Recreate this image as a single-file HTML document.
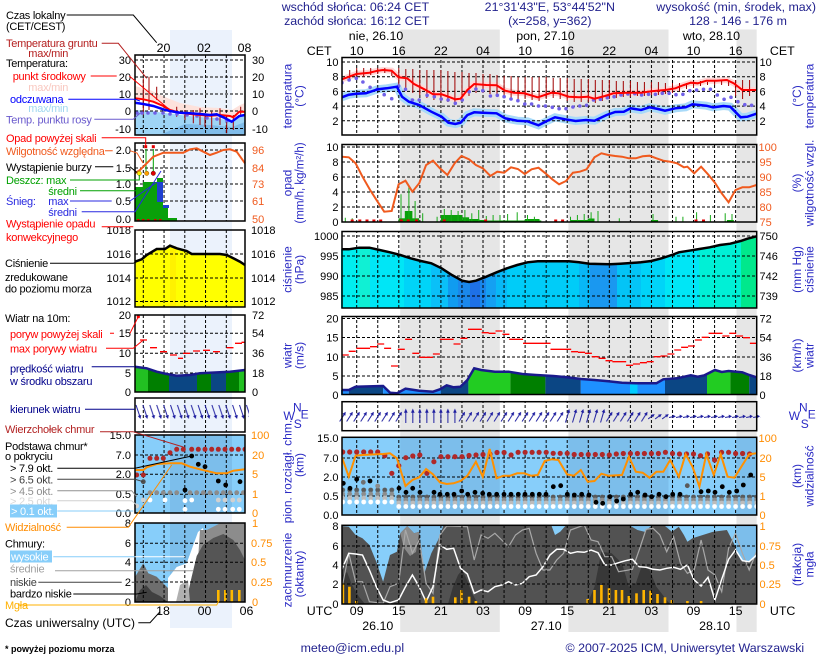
<!DOCTYPE html>
<html><head><meta charset="utf-8">
<style>
html,body{margin:0;padding:0;background:#fff;}
svg{display:block;font-family:"Liberation Sans",Arial,sans-serif;}
.lg{font-size:11px;letter-spacing:-0.25px;}
.tk{font-size:11px;}
.hd{font-size:12.4px;fill:#22228e;}
.ti{font-size:12px;fill:#2a2ac4;}
.gd{stroke:#000;stroke-width:1;stroke-dasharray:3,2;fill:none;}
.bd{fill:none;stroke:#000;stroke-width:1.5;}
</style></head><body>
<svg width="820" height="660" viewBox="0 0 820 660" xmlns="http://www.w3.org/2000/svg">
<defs>
<pattern id="vg" x="356.2" y="0" width="21.052" height="660" patternUnits="userSpaceOnUse"><line x1="0.5" y1="0" x2="0.5" y2="660" stroke="#000" stroke-width="1" stroke-dasharray="3,2"/></pattern>
<pattern id="mvg" x="142.8" y="0" width="20.75" height="660" patternUnits="userSpaceOnUse"><line x1="0.5" y1="0" x2="0.5" y2="660" stroke="#000" stroke-width="1" stroke-dasharray="3,2"/></pattern>
<pattern id="stk" x="339.16" y="0" width="7.017" height="660" patternUnits="userSpaceOnUse">
<circle cx="3.5" cy="497" r="2.4" fill="#5a5a5a"/><circle cx="3.5" cy="500" r="2.4" fill="#8c8c8c"/><circle cx="3.5" cy="503" r="2.4" fill="#bcbcbc"/><circle cx="3.5" cy="506.5" r="2.4" fill="#fff"/></pattern>
<pattern id="stk2" x="339.16" y="0" width="7.017" height="660" patternUnits="userSpaceOnUse">
<circle cx="3.5" cy="490" r="2.4" fill="#5a5a5a"/><circle cx="3.5" cy="494" r="2.4" fill="#8c8c8c"/><circle cx="3.5" cy="498" r="2.4" fill="#bcbcbc"/><circle cx="3.5" cy="502" r="2.4" fill="#fff"/></pattern>
<pattern id="aNE" x="339.16" y="401" width="7.017" height="31" patternUnits="userSpaceOnUse"><line x1="0.5" y1="20.5" x2="5.6" y2="12.5" stroke="#1e1ea0" stroke-width="1"/><polygon points="6.6,10.8 6.19,14.8 3.15,12.88" fill="#1e1ea0"/></pattern>
<pattern id="aN" x="339.16" y="401" width="7.017" height="31" patternUnits="userSpaceOnUse"><line x1="3.5" y1="22" x2="3.5" y2="10" stroke="#1e1ea0" stroke-width="1"/><polygon points="3.5,7.5 5.3,11.8 1.7,11.8" fill="#1e1ea0"/></pattern>
<pattern id="aNNE" x="339.16" y="401" width="7.017" height="31" patternUnits="userSpaceOnUse"><line x1="1.8" y1="21.5" x2="5" y2="10.5" stroke="#1e1ea0" stroke-width="1"/><polygon points="5.6,8 6.36,11.95 2.9,10.97" fill="#1e1ea0"/></pattern>
<pattern id="aENE" x="339.16" y="401" width="7.017" height="31" patternUnits="userSpaceOnUse"><line x1="0.2" y1="18" x2="5.5" y2="14" stroke="#1e1ea0" stroke-width="1"/><polygon points="6.8,13.1 5.1,16.5 3.06,13.78" fill="#1e1ea0"/></pattern>
<pattern id="aE" x="339.16" y="401" width="7.017" height="31" patternUnits="userSpaceOnUse"><line x1="0" y1="16.5" x2="5" y2="15.5" stroke="#1e1ea0" stroke-width="1"/><polygon points="6.9,15.2 3.8,17.3 3.6,13.6" fill="#1e1ea0"/></pattern>
<pattern id="aSE" x="135" y="398" width="6.9" height="34" patternUnits="userSpaceOnUse"><line x1="1" y1="7" x2="4.7" y2="18" stroke="#1e1ea0" stroke-width="1"/><polygon points="5.5,21 6.23,17.04 2.77,18.04" fill="#1e1ea0"/></pattern>
<clipPath id="cT"><rect x="342" y="57.5" width="414.7" height="77.5"/></clipPath>
<clipPath id="cO"><rect x="342" y="144.5" width="414.7" height="77.5"/></clipPath>
<clipPath id="cP"><path d="M341,249.3 L348.8,249.3 359.1,247.7 369.4,247.7 379.7,250 390,252.3 400.3,255 410.6,258.3 420.9,261 431.3,263.3 441.6,268.3 451.9,275 462.2,280.7 469.1,282 475.9,280.7 486.3,276.7 496.6,272.3 506.9,268.3 517.2,265 527.5,262.3 537.8,261.3 568.8,261.3 579.1,262.3 589.4,263.7 610,264.3 620.3,263.7 641,262.3 651.3,261 661.6,258.3 671.9,255 678.8,252.3 689.1,250.7 699.4,249 709.7,247.3 720,245 730.3,243.7 740.6,241 747.5,238.7 757,236.3 L757,308 L341,308 Z"/></clipPath>
<clipPath id="cW"><path d="M341,390 L348.8,390 355.6,386.7 383.1,386 390,392.7 396.9,393.3 405.5,388.7 419.2,390.7 433,391.7 439.9,389.3 446.7,385.3 453.6,387.3 460.5,386.7 467.4,380 474.2,368.3 481.1,370 494.9,371.7 508.6,371.7 522.4,374 536.1,375 553.3,376 567,377.3 580.8,379 594.5,380 608.3,381.3 622,382.7 635.8,383.3 656.4,383.3 663.3,379.3 677,378.3 690.8,375.3 697.7,376.7 704.5,375.3 714.9,370 721.7,372 728.6,371 742.4,372.3 749.2,375 757,377.3 L757,395 L341,395 Z"/></clipPath>
<clipPath id="cWp"><rect x="342" y="316.5" width="414.7" height="78"/></clipPath>
<clipPath id="cB"><rect x="342" y="437.3" width="414.7" height="77.7"/></clipPath>
<clipPath id="cC"><rect x="342" y="525.3" width="414.7" height="78.7"/></clipPath>
<clipPath id="mW"><path d="M135,366.7 L146.7,368.3 156.7,371.7 166.7,374 176.7,375.7 190,375 200,373.3 230,371.7 245,370 L245,392 L135,392 Z"/></clipPath>
<clipPath id="mB"><rect x="135" y="435" width="110" height="78"/></clipPath>
<clipPath id="mT"><rect x="135" y="55" width="110" height="80"/></clipPath>
</defs>

<rect width="820" height="660" fill="#fff"/>
<!-- night bands -->
<rect x="400.2" y="29.5" width="99.6" height="602.5" fill="#e6e6e6"/>
<rect x="568.4" y="29.5" width="100.1" height="602.5" fill="#e6e6e6"/>
<rect x="736.5" y="29.5" width="20.2" height="602.5" fill="#e6e6e6"/>
<rect x="170" y="30" width="62" height="598" fill="#ebf2fc"/>

<!-- header -->
<text class="hd" x="281.7" y="11">wschód słońca: 06:24 CET</text>
<text class="hd" x="284.1" y="25">zachód słońca: 16:12 CET</text>
<text class="hd" x="549.8" y="11" text-anchor="middle">21°31'43"E, 53°44'52"N</text>
<text class="hd" x="549.8" y="25" text-anchor="middle">(x=258, y=362)</text>
<text class="hd" x="816" y="11" text-anchor="end">wysokość (min, środek, max)</text>
<text class="hd" x="738" y="25" text-anchor="middle">128 - 146 - 176 m</text>

<g font-size="12.4" fill="#000">
<text x="348.8" y="40">nie, 26.10</text>
<text x="516.2" y="40">pon, 27.10</text>
<text x="682.9" y="40">wto, 28.10</text>
<text x="306.8" y="55">CET</text>
<text x="769.9" y="55">CET</text>
<g text-anchor="middle">
<text x="356.7" y="55">10</text><text x="398.8" y="55">16</text><text x="440.9" y="55">22</text><text x="483" y="55">04</text><text x="525.1" y="55">10</text><text x="567.2" y="55">16</text><text x="609.3" y="55">22</text><text x="651.4" y="55">04</text><text x="693.5" y="55">10</text><text x="735.6" y="55">16</text>
<text x="356.7" y="615">09</text><text x="398.8" y="615">15</text><text x="440.9" y="615">21</text><text x="483" y="615">03</text><text x="525.1" y="615">09</text><text x="567.2" y="615">15</text><text x="609.3" y="615">21</text><text x="651.4" y="615">03</text><text x="693.5" y="615">09</text><text x="735.6" y="615">15</text>
<text x="377.8" y="630">26.10</text><text x="546.2" y="630">27.10</text><text x="714.6" y="630">28.10</text>
</g>
<text x="306.8" y="615">UTC</text>
<text x="769.9" y="615">UTC</text>
</g>

<!-- ===== TEMPERATURE PANEL ===== -->
<g clip-path="url(#cT)">
<path d="M341.9,97.3 L348.8,94.7 356.3,93.7 365.9,93.3 377.6,89.3 386.6,88.3 396.9,86.7 402,96.7 408.9,101.7 419.2,105 431.3,111.7 441.6,116.7 448.4,122.7 455.3,124 460.5,122.7 467.4,115 474.2,112.3 482.8,112.7 496.6,113.3 505.2,118.3 517.2,120.7 527.5,121.3 538.5,125.3 546.4,121.3 555,117.3 565.3,119.3 575.6,121 586,120 594.5,120.7 606.6,115 615.2,112 623.8,111.7 630.6,108.3 641,110 649.5,107.3 658.1,109 665,110.7 675.3,108.3 685.6,107.3 692.5,104.3 706.3,105.7 713.1,107.3 723.5,106 730.3,106.7 740.6,117.3 747.5,116.7 756.5,113.7" fill="none" stroke="#a8daf9" stroke-width="8"/>
<path d="M341.9,79.3 L356.3,74 369.4,72.7 377.6,70.7 383.1,70 391.7,70.7 398.6,77.3 407.2,78.3 414.1,84 424.4,89.3 433,94.3 441.6,94.3 448.4,96.7 455.3,99.3 460.5,98.7 467.4,90 474.2,84 486.3,85 496.6,85.3 505.2,90.7 513.8,92.7 524.1,93.3 537.8,97.3 551.6,92.7 558.5,93.3 568.8,96.7 579.1,97.3 587.7,96.7 594.5,98.7 604.9,96 613.5,93.3 627.2,92.7 641,92.7 651.3,91.3 665,90 675.3,88.3 683.9,85 690.8,82.7 697.7,83.3 706.3,80.7 716.6,80.7 726.9,80 733.8,83.3 742.4,90 756.5,90" fill="none" stroke="#ffd6d6" stroke-width="6"/>
<rect x="342" y="57" width="415" height="80" fill="url(#vg)"/>
<path class="gd" d="M342,62H757M342,76.7H757M342,91.4H757M342,106.1H757M342,120.8H757"/>
<path d="M349.7,70V80M356.7,68V80M363.7,68V77M370.7,68V75M377.7,68V74M384.8,68V73M391.8,70V76M398.8,68V86M405.8,69V90M412.8,69V93M419.8,70V95M426.9,70V98M433.9,70V100M440.9,70V101M447.9,71V102M454.9,72V104M462,72V101M469,73V96M476,73V93M483,74V93M490,74V94M497,75V96M504.1,76V97M511.1,76V98M518.1,77V99M525.1,77V99M532.1,77V100M539.1,77V101M546.2,77V99M553.2,78V98M560.2,78V99M567.2,78V101M574.2,79V102M581.2,79V102M588.3,79V102M595.3,80V103M602.3,80V101M609.3,80V99M616.3,81V98M623.3,81V97M630.4,81V97M637.4,82V96M644.4,82V96M651.4,82V95M658.4,82V95M665.4,83V94M672.5,83V93M679.5,83V91M686.5,83V89M693.5,81V88M700.5,81V86M707.5,82V85M714.6,82V85M721.6,81V85M728.6,81V86M735.6,80V96M742.6,80V99M749.6,80V96" stroke="#a00000" stroke-width="1"/>
<g fill="#7060e8">
<circle cx="341.9" cy="82.7" r="1.8"/><circle cx="349.1" cy="80" r="1.8"/><circle cx="356.3" cy="78.3" r="1.8"/><circle cx="362.9" cy="82" r="1.8"/><circle cx="370.1" cy="87.3" r="1.8"/><circle cx="377.3" cy="89.3" r="1.8"/><circle cx="384.2" cy="94.7" r="1.8"/><circle cx="391.7" cy="98.7" r="1.8"/><circle cx="398.6" cy="86" r="1.8"/><circle cx="405.5" cy="89.3" r="1.8"/><circle cx="412.4" cy="100" r="1.8"/><circle cx="419.2" cy="100" r="1.8"/><circle cx="427.1" cy="95.3" r="1.8"/><circle cx="434.3" cy="96.7" r="1.8"/><circle cx="441.2" cy="99" r="1.8"/><circle cx="448.1" cy="100" r="1.8"/><circle cx="455.3" cy="103.3" r="1.8"/><circle cx="462.2" cy="100" r="1.8"/><circle cx="469.1" cy="91.7" r="1.8"/><circle cx="475.9" cy="89" r="1.8"/><circle cx="482.8" cy="90.7" r="1.8"/><circle cx="490.4" cy="96" r="1.8"/><circle cx="497.3" cy="95.3" r="1.8"/><circle cx="504.1" cy="96.7" r="1.8"/><circle cx="511" cy="99" r="1.8"/><circle cx="517.9" cy="100.7" r="1.8"/><circle cx="524.8" cy="104" r="1.8"/><circle cx="531.6" cy="104" r="1.8"/><circle cx="538.5" cy="106" r="1.8"/><circle cx="545.4" cy="106" r="1.8"/><circle cx="552.3" cy="107.3" r="1.8"/><circle cx="559.1" cy="108.7" r="1.8"/><circle cx="566" cy="108.7" r="1.8"/><circle cx="572.9" cy="107" r="1.8"/><circle cx="579.8" cy="106" r="1.8"/><circle cx="586.6" cy="105.3" r="1.8"/><circle cx="593.5" cy="100" r="1.8"/><circle cx="600.4" cy="99.3" r="1.8"/><circle cx="607.3" cy="97.7" r="1.8"/><circle cx="614.1" cy="96.7" r="1.8"/><circle cx="621" cy="95" r="1.8"/><circle cx="627.9" cy="94" r="1.8"/><circle cx="634.8" cy="93.7" r="1.8"/><circle cx="641.6" cy="95" r="1.8"/><circle cx="648.5" cy="94.3" r="1.8"/><circle cx="655.4" cy="94.3" r="1.8"/><circle cx="662.3" cy="93.3" r="1.8"/><circle cx="669.1" cy="93.3" r="1.8"/><circle cx="676" cy="94.7" r="1.8"/><circle cx="682.9" cy="94.3" r="1.8"/><circle cx="689.8" cy="90.7" r="1.8"/><circle cx="696.6" cy="90" r="1.8"/><circle cx="703.5" cy="89.3" r="1.8"/><circle cx="710.4" cy="89.3" r="1.8"/><circle cx="717.3" cy="95" r="1.8"/><circle cx="724.1" cy="99.3" r="1.8"/><circle cx="731" cy="97.3" r="1.8"/><circle cx="737.9" cy="101.7" r="1.8"/><circle cx="744.8" cy="104.7" r="1.8"/><circle cx="751.6" cy="105.3" r="1.8"/>
</g>
<path d="M341.9,79.3 L356.3,74 369.4,72.7 377.6,70.7 383.1,70 391.7,70.7 398.6,77.3 407.2,78.3 414.1,84 424.4,89.3 433,94.3 441.6,94.3 448.4,96.7 455.3,99.3 460.5,98.7 467.4,90 474.2,84 486.3,85 496.6,85.3 505.2,90.7 513.8,92.7 524.1,93.3 537.8,97.3 551.6,92.7 558.5,93.3 568.8,96.7 579.1,97.3 587.7,96.7 594.5,98.7 604.9,96 613.5,93.3 627.2,92.7 641,92.7 651.3,91.3 665,90 675.3,88.3 683.9,85 690.8,82.7 697.7,83.3 706.3,80.7 716.6,80.7 726.9,80 733.8,83.3 742.4,90 756.5,90" fill="none" stroke="#ff0000" stroke-width="2"/>
<path d="M341.9,97.3 L348.8,94.7 356.3,93.7 365.9,93.3 377.6,89.3 386.6,88.3 396.9,86.7 402,96.7 408.9,101.7 419.2,105 431.3,111.7 441.6,116.7 448.4,122.7 455.3,124 460.5,122.7 467.4,115 474.2,112.3 482.8,112.7 496.6,113.3 505.2,118.3 517.2,120.7 527.5,121.3 538.5,125.3 546.4,121.3 555,117.3 565.3,119.3 575.6,121 586,120 594.5,120.7 606.6,115 615.2,112 623.8,111.7 630.6,108.3 641,110 649.5,107.3 658.1,109 665,110.7 675.3,108.3 685.6,107.3 692.5,104.3 706.3,105.7 713.1,107.3 723.5,106 730.3,106.7 740.6,117.3 747.5,116.7 756.5,113.7" fill="none" stroke="#0000ff" stroke-width="2.5"/>
</g>
<rect class="bd" x="342" y="57.5" width="414.7" height="77.5"/>

<!-- ===== PRECIP PANEL ===== -->
<g clip-path="url(#cO)">
<rect x="342" y="144" width="415" height="80" fill="url(#vg)"/>
<path class="gd" d="M342,147H757M342,162H757M342,177H757M342,192H757M342,207H757"/>
<g fill="#0aa00a">
<rect x="398.6" y="218.3" width="20.6" height="3.7"/><rect x="404.8" y="211" width="7.6" height="11"/><rect x="440.9" y="215" width="21.3" height="7"/><rect x="462.2" y="217.3" width="6.9" height="4.7"/><rect x="469.1" y="219" width="10.3" height="3"/><rect x="479.4" y="220" width="6.9" height="2"/><rect x="486.3" y="220.5" width="55" height="1.5"/><rect x="524.8" y="219" width="14.7" height="3"/><rect x="570.5" y="220" width="20.6" height="2"/><rect x="587.7" y="218.5" width="6.8" height="3.5"/><rect x="651.3" y="220" width="6.8" height="2"/><rect x="726.9" y="220" width="6.9" height="2"/>
</g>
<path d="M345.3,222V217.7M352.2,222V218.3M401,222V194.3M408.9,222V185.7M415.1,222V201M422.7,222V213.3M437.1,222V216.7M444.3,222V209M451.2,222V210M458.1,222V211M464.9,222V210M471.8,222V213.3M478.7,222V210M486.3,222V216M493.1,222V215M500,222V215M507.6,222V214M517.2,222V212.3M527.5,222V215M534.4,222V216.7M570.5,222V216.7M577.4,222V215M584.2,222V214M591.1,222V212.3M598,222V211M619.3,222V218.3M653,222V214M676,222V216.7M682.9,222V216.7M696.6,222V212.3M710.4,222V215M725.2,222V213.3M732,222V214" stroke="#18aa18" stroke-width="1"/>
<g fill="#e00000">
<rect x="350.7" y="219.5" width="3" height="3"/><rect x="358.3" y="219.5" width="3" height="3"/><rect x="365.5" y="219.5" width="3" height="3"/><rect x="372.4" y="219.5" width="3" height="3"/><rect x="379.2" y="219.5" width="3" height="3"/><rect x="399.8" y="219.5" width="3" height="3"/><rect x="406.7" y="219.5" width="3" height="3"/><rect x="415" y="219.5" width="3" height="3"/><rect x="442.8" y="219.5" width="3" height="3"/><rect x="484.1" y="219.5" width="3" height="3"/><rect x="554.2" y="219.5" width="3" height="3"/><rect x="561.1" y="219.5" width="3" height="3"/><rect x="694.5" y="219.5" width="3" height="3"/><rect x="702" y="219.5" width="3" height="3"/>
</g>
<path d="M341.9,156.7 L348.8,157.3 355.6,163.3 362.5,176.7 370.1,190 377.6,201.7 384.2,211.7 391.7,211 398.6,184.3 405.5,180.7 412.4,191.7 419.2,183.3 426.1,165 433,160.7 439.9,168.3 447.4,175 454.6,163.3 461.5,156 469.1,159.3 475.9,165 482.8,168.3 490.4,176 497.3,171.7 504.1,172.7 511,167.3 517.9,169 524.8,174 531.6,169.3 538.5,167.7 545.4,173.3 552.3,179.3 559.1,184.3 566,181 572.9,172.7 579.8,171.7 586.6,169.3 594.5,157.3 601.4,153.3 608.3,155 615.2,156 622,156.7 628.9,158.3 635.8,158.3 642.7,156.3 649.5,155.7 656.4,158.3 663.3,160.7 670.2,161.7 677,163.3 683.9,167.3 687.4,166.7 694.2,173.3 701.1,166.7 708,174.3 714.9,182.7 721.7,193.3 728.6,202.3 735.5,190 742.4,187.3 749.2,187.3 756.5,185" fill="none" stroke="#f05a1e" stroke-width="2"/>
</g>
<rect class="bd" x="342" y="144.5" width="414.7" height="77.5"/>

<!-- ===== PRESSURE PANEL ===== -->
<g clip-path="url(#cP)">
<rect x="341" y="231" width="18" height="78" fill="#00eef0"/>
<rect x="359" y="231" width="11" height="78" fill="#10f0d4"/>
<rect x="370" y="231" width="34" height="78" fill="#00e6f6"/>
<rect x="404" y="231" width="27" height="78" fill="#00d4f8"/>
<rect x="431" y="231" width="17" height="78" fill="#0ac0f8"/>
<rect x="448" y="231" width="10" height="78" fill="#109cf0"/>
<rect x="458" y="231" width="12" height="78" fill="#1a88ec"/>
<rect x="470" y="231" width="10" height="78" fill="#1e70e6"/>
<rect x="480" y="231" width="6" height="78" fill="#1a86ec"/>
<rect x="486" y="231" width="10" height="78" fill="#14a0f2"/>
<rect x="496" y="231" width="11" height="78" fill="#08b8f6"/>
<rect x="507" y="231" width="72" height="78" fill="#00ccf8"/>
<rect x="579" y="231" width="11" height="78" fill="#08b8f6"/>
<rect x="590" y="231" width="27" height="78" fill="#1a98f0"/>
<rect x="617" y="231" width="24" height="78" fill="#04c4f6"/>
<rect x="641" y="231" width="24" height="78" fill="#00d4f8"/>
<rect x="665" y="231" width="34" height="78" fill="#00e6f6"/>
<rect x="699" y="231" width="42" height="78" fill="#00f0d6"/>
<rect x="741" y="231" width="16" height="78" fill="#00e88c"/>
</g>
<rect x="342" y="231" width="415" height="78" fill="url(#vg)"/>
<path class="gd" d="M342,236H757M342,256H757M342,276H757M342,296H757"/>
<path d="M341.9,249.3 L348.8,249.3 359.1,247.7 369.4,247.7 379.7,250 390,252.3 400.3,255 410.6,258.3 420.9,261 431.3,263.3 441.6,268.3 451.9,275 462.2,280.7 469.1,282 475.9,280.7 486.3,276.7 496.6,272.3 506.9,268.3 517.2,265 527.5,262.3 537.8,261.3 568.8,261.3 579.1,262.3 589.4,263.7 610,264.3 620.3,263.7 641,262.3 651.3,261 661.6,258.3 671.9,255 678.8,252.3 689.1,250.7 699.4,249 709.7,247.3 720,245 730.3,243.7 740.6,241 747.5,238.7 756.5,236.3" fill="none" stroke="#000" stroke-width="2.5"/>
<rect class="bd" x="342" y="231.5" width="414.7" height="76.5"/>

<!-- ===== WIND PANEL ===== -->
<g clip-path="url(#cWp)">
<rect x="342" y="316" width="415" height="80" fill="url(#vg)"/>
<path class="gd" d="M342,318.5H757M342,337.5H757M342,357H757M342,376H757"/>
</g>
<g clip-path="url(#cW)">
<rect x="341" y="360" width="7.8" height="36" fill="#1e90ff"/>
<rect x="348.8" y="360" width="34.3" height="36" fill="#0b4684"/>
<rect x="383.1" y="360" width="7.6" height="36" fill="#1e90ff"/>
<rect x="390.7" y="360" width="7.9" height="36" fill="#00ccff"/>
<rect x="398.6" y="360" width="42.3" height="36" fill="#1e90ff"/>
<rect x="440.9" y="360" width="27.5" height="36" fill="#0b4684"/>
<rect x="468.4" y="360" width="41.9" height="36" fill="#22cc22"/>
<rect x="510.3" y="360" width="35.1" height="36" fill="#007f00"/>
<rect x="545.4" y="360" width="35.4" height="36" fill="#0b4684"/>
<rect x="580.8" y="360" width="49.2" height="36" fill="#1e90ff"/>
<rect x="630" y="360" width="7.5" height="36" fill="#00ccff"/>
<rect x="637.5" y="360" width="27.5" height="36" fill="#1e90ff"/>
<rect x="665" y="360" width="42" height="36" fill="#0b4684"/>
<rect x="707" y="360" width="23.3" height="36" fill="#22cc22"/>
<rect x="730.3" y="360" width="18.9" height="36" fill="#007f00"/>
<rect x="749.2" y="360" width="7.8" height="36" fill="#0b4684"/>
</g>
<g clip-path="url(#cWp)">
<path d="M341.9,390 L348.8,390 355.6,386.7 383.1,386 390,392.7 396.9,393.3 405.5,388.7 419.2,390.7 433,391.7 439.9,389.3 446.7,385.3 453.6,387.3 460.5,386.7 467.4,380 474.2,368.3 481.1,370 494.9,371.7 508.6,371.7 522.4,374 536.1,375 553.3,376 567,377.3 580.8,379 594.5,380 608.3,381.3 622,382.7 635.8,383.3 656.4,383.3 663.3,379.3 677,378.3 690.8,375.3 697.7,376.7 704.5,375.3 714.9,370 721.7,372 728.6,371 742.4,372.3 749.2,375 756.5,377.3" fill="none" stroke="#1a1a8c" stroke-width="2.5"/>
<path d="M341.8,355h7M348.7,351.3h7M356.3,348.3h7M363.1,348.3h7M370,346.7h7M377.2,344h7M384.1,348.3h7M391,366h7M397.8,349.3h7M405.1,339.3h7M412.3,353.3h7M419.2,357.3h7M426,357.3h7M432.9,354h7M439.8,339.3h7M446.7,339.3h7M453.5,344h7M460.4,338.3h7M468,329.3h7M474.8,329.3h7M481.7,332.7h7M488.6,333.3h7M495.5,331h7M502.4,334.3h7M509.2,339.3h7M516.1,339.3h7M523,343.3h7M529.9,343.3h7M536.7,343.3h7M543.6,343.3h7M550.5,349.3h7M557.4,349.3h7M564.2,349.3h7M571.1,351.7h7M578,352.3h7M584.9,353.3h7M591.7,356.7h7M598.6,358.3h7M605.5,360.7h7M612.4,361.7h7M619.2,361.7h7M626.1,365.3h7M633,364h7M639.9,362.7h7M646.7,361.7h7M653.6,356.7h7M660.5,356h7M667.4,354h7M674.2,350h7M681.1,347.3h7M688,346h7M694.9,340h7M701.7,337.3h7M708.6,333.3h7M715.5,333.3h7M722.4,336h7M729.2,333.3h7M736.1,336h7M743,337.7h7M749.9,343.3h7" stroke="#ff0000" stroke-width="1.3"/>
</g>
<rect class="bd" x="342" y="316.5" width="414.7" height="78"/>

<!-- ===== WIND DIRECTION ===== -->
<rect x="342" y="401.7" width="415" height="29" fill="url(#vg)"/>
<rect x="339.16" y="401" width="63.15" height="31" fill="url(#aNE)"/>
<rect x="402.31" y="401" width="56.14" height="31" fill="url(#aN)"/>
<rect x="458.45" y="401" width="105.25" height="31" fill="url(#aNE)"/>
<rect x="563.7" y="401" width="42.1" height="31" fill="url(#aNNE)"/>
<rect x="605.8" y="401" width="42.11" height="31" fill="url(#aNE)"/>
<rect x="647.91" y="401" width="21.05" height="31" fill="url(#aENE)"/>
<rect x="668.96" y="401" width="91.22" height="31" fill="url(#aE)"/>
<rect class="bd" x="342" y="401.7" width="414.7" height="29"/>

<!-- ===== CLOUD BASE PANEL ===== -->
<g clip-path="url(#cB)">
<rect x="342" y="437" width="415" height="79" fill="#87cefa"/>
<rect x="400.2" y="437" width="99.6" height="79" fill="#7cbeeb"/>
<rect x="568.4" y="437" width="100.1" height="79" fill="#7cbeeb"/>
<rect x="736.5" y="437" width="20.2" height="79" fill="#7cbeeb"/>
<rect x="342" y="437" width="415" height="79" fill="url(#vg)"/>
<path class="gd" d="M342,458H757M342,477H757M342,496H757"/>
<rect x="339.16" y="485" width="56.14" height="22" fill="url(#stk2)"/>
<rect x="395.3" y="492" width="362" height="20" fill="url(#stk)"/>
<g fill="#000">
<circle cx="343.3" cy="483.3" r="2.4"/><circle cx="350" cy="488.3" r="2.4"/><circle cx="356.7" cy="479.3" r="2.4"/><circle cx="370" cy="481" r="2.4"/><circle cx="399" cy="488.3" r="2.4"/><circle cx="406" cy="492.3" r="2.4"/><circle cx="412.7" cy="488.3" r="2.4"/><circle cx="420" cy="492.3" r="2.4"/><circle cx="434" cy="492.3" r="2.4"/><circle cx="440" cy="494.3" r="2.4"/><circle cx="447.3" cy="494.3" r="2.4"/><circle cx="454" cy="494.3" r="2.4"/><circle cx="461.7" cy="491" r="2.4"/><circle cx="467.7" cy="494.3" r="2.4"/><circle cx="475" cy="492.3" r="2.4"/><circle cx="482.7" cy="493.3" r="2.4"/><circle cx="489.3" cy="494.3" r="2.4"/><circle cx="496.7" cy="494.3" r="2.4"/><circle cx="504" cy="494.3" r="2.4"/><circle cx="511" cy="494.3" r="2.4"/><circle cx="518.3" cy="494.3" r="2.4"/><circle cx="525" cy="494.3" r="2.4"/><circle cx="532.3" cy="494.3" r="2.4"/><circle cx="539.3" cy="494.3" r="2.4"/><circle cx="546" cy="494.3" r="2.4"/><circle cx="553.3" cy="486.7" r="2.4"/><circle cx="560.7" cy="485.7" r="2.4"/><circle cx="567.3" cy="494.3" r="2.4"/><circle cx="574.3" cy="495" r="2.4"/><circle cx="581.7" cy="494.3" r="2.4"/><circle cx="589" cy="495" r="2.4"/><circle cx="596" cy="502.3" r="2.4"/><circle cx="602.7" cy="503.3" r="2.4"/><circle cx="610" cy="496.7" r="2.4"/><circle cx="616.7" cy="501" r="2.4"/><circle cx="623.3" cy="499" r="2.4"/><circle cx="630.7" cy="494.3" r="2.4"/><circle cx="637.7" cy="492.3" r="2.4"/><circle cx="645" cy="495" r="2.4"/><circle cx="651.7" cy="496.7" r="2.4"/><circle cx="659" cy="494.3" r="2.4"/><circle cx="666" cy="496.7" r="2.4"/><circle cx="672.7" cy="494.3" r="2.4"/><circle cx="680" cy="494.3" r="2.4"/><circle cx="701" cy="491.7" r="2.4"/><circle cx="708.3" cy="491" r="2.4"/><circle cx="715" cy="492.3" r="2.4"/><circle cx="722.3" cy="486.7" r="2.4"/><circle cx="729.3" cy="492.3" r="2.4"/><circle cx="736.7" cy="491" r="2.4"/><circle cx="743.3" cy="485" r="2.4"/><circle cx="750.7" cy="475" r="2.4"/>
</g>
<circle cx="363.3" cy="482.3" r="2.4" fill="#707070"/><circle cx="687.3" cy="485.7" r="2.4" fill="#5a5a5a"/><circle cx="377.7" cy="486" r="2.4" fill="#8c8c8c"/>
<g fill="#b02828">
<circle cx="342.7" cy="452" r="2.6"/><circle cx="349.7" cy="452" r="2.6"/><circle cx="356.7" cy="452" r="2.6"/><circle cx="363.7" cy="452" r="2.6"/><circle cx="370.7" cy="452" r="2.6"/><circle cx="377.7" cy="452" r="2.6"/><circle cx="384.8" cy="455.7" r="2.6"/><circle cx="391.8" cy="473.3" r="2.6"/><circle cx="398.8" cy="465.7" r="2.6"/><circle cx="405.8" cy="457.7" r="2.6"/><circle cx="412.8" cy="456" r="2.6"/><circle cx="419.8" cy="455" r="2.6"/><circle cx="426.9" cy="473.3" r="2.6"/><circle cx="433.9" cy="461.7" r="2.6"/><circle cx="440.9" cy="456.7" r="2.6"/><circle cx="447.9" cy="456.7" r="2.6"/><circle cx="454.9" cy="456.7" r="2.6"/><circle cx="462" cy="456.7" r="2.6"/><circle cx="469" cy="455.5" r="2.6"/><circle cx="476" cy="455" r="2.6"/><circle cx="483" cy="454.5" r="2.6"/><circle cx="490" cy="454" r="2.6"/><circle cx="497" cy="452.5" r="2.6"/><circle cx="504.1" cy="452.5" r="2.6"/><circle cx="511.1" cy="455" r="2.6"/><circle cx="518.1" cy="452.3" r="2.6"/><circle cx="525.1" cy="452.3" r="2.6"/><circle cx="532.1" cy="452.3" r="2.6"/><circle cx="539.1" cy="452.3" r="2.6"/><circle cx="546.2" cy="452.3" r="2.6"/><circle cx="553.2" cy="453.3" r="2.6"/><circle cx="560.2" cy="453.3" r="2.6"/><circle cx="567.2" cy="453.3" r="2.6"/><circle cx="574.2" cy="454.5" r="2.6"/><circle cx="581.2" cy="454.5" r="2.6"/><circle cx="588.3" cy="454.5" r="2.6"/><circle cx="595.3" cy="454.5" r="2.6"/><circle cx="602.3" cy="454.5" r="2.6"/><circle cx="609.3" cy="455" r="2.6"/><circle cx="616.3" cy="454" r="2.6"/><circle cx="623.3" cy="453.5" r="2.6"/><circle cx="630.4" cy="453.5" r="2.6"/><circle cx="637.4" cy="453.5" r="2.6"/><circle cx="644.4" cy="453.5" r="2.6"/><circle cx="651.4" cy="453.5" r="2.6"/><circle cx="658.4" cy="453.5" r="2.6"/><circle cx="665.4" cy="452.3" r="2.6"/><circle cx="672.5" cy="453.5" r="2.6"/><circle cx="679.5" cy="454" r="2.6"/><circle cx="686.5" cy="454" r="2.6"/><circle cx="693.5" cy="454" r="2.6"/><circle cx="700.5" cy="455.7" r="2.6"/><circle cx="707.5" cy="454" r="2.6"/><circle cx="714.6" cy="460" r="2.6"/><circle cx="721.6" cy="452.3" r="2.6"/><circle cx="728.6" cy="452.3" r="2.6"/><circle cx="735.6" cy="453.5" r="2.6"/><circle cx="742.6" cy="453.5" r="2.6"/><circle cx="749.6" cy="454" r="2.6"/>
</g>
<path d="M341.9,457.3 L348.8,476.7 355.6,455.7 362.5,455 383.1,454 390,453.3 396.9,458.3 405.5,486 412.4,480 419.2,477.3 426.1,469 433,474.3 439.9,482.3 446.7,484 453.6,483.3 460.5,481 467.4,475.7 475.9,461.7 482.8,476.7 489.7,449 496.6,478.3 503.4,475.7 510.3,475.7 517.2,473.3 524.1,473.3 530.9,475.7 537.8,475 544.7,461 551.6,459.3 558.4,460 567,474.3 573.9,475.7 580.8,470 587.7,481.7 594.5,481 601.4,473.7 608.3,475.7 622,475 628.9,456.7 635.8,471.7 642.7,472.7 649.5,477.7 656.4,471.7 663.3,471.7 670.2,460 678.8,476.7 685.6,454.3 692.5,466.7 699.4,486.7 706.3,454.3 713.8,475 720.7,454.3 727.6,476.7 734.5,477.7 742.4,465 749.2,454.3 756.5,453.3" fill="none" stroke="#ff9000" stroke-width="2"/>
</g>
<rect class="bd" x="342" y="437.3" width="414.7" height="77.7"/>

<!-- ===== CLOUD COVER PANEL ===== -->
<g clip-path="url(#cC)">
<rect x="342" y="525" width="415" height="80" fill="#87cefa"/>
<rect x="400.2" y="525" width="99.6" height="80" fill="#7cbeeb"/>
<rect x="568.4" y="525" width="100.1" height="80" fill="#7cbeeb"/>
<rect x="736.5" y="525" width="20.2" height="80" fill="#7cbeeb"/>
<path d="M341,604 L341,526 348.8,526.7 355.6,535 362.5,538.3 369.4,545 376.3,561.7 383.1,581.7 390,555 396.9,551.7 400.3,533.3 407.2,526 414.1,533.3 419.2,531.7 424.4,573.3 431.3,553.3 438.1,540 443.3,526 551.6,526 555,535 560.2,531.7 565.3,526 630.6,526 637.5,530 644.4,531.7 651.3,526 665,526 671.9,531.7 678.8,526.7 683.9,535 687.4,541.7 692.5,538.3 702.8,535 713.1,531.7 726.9,530 733.8,543.3 740.6,560 747.5,561.7 757,556.7 L757,605 L341,605 Z" fill="#525252"/>
<path d="M400.3,533.3 L407.2,526 414.1,533.3 419.2,531.7 416,552 410,556 404,548 Z" fill="#8a8a8a"/>
<path d="M341,604 L341,576.7 347,572 352,585 359,596.7 365,604 Z" fill="#383838"/>
<path d="M448,604 L453,586.7 458,575 462.2,570 467,580 472,593.3 478,604 Z" fill="#383838"/>
<path d="M585,604 L587.7,603.3 594.5,586.7 601.4,551.7 611.7,553.3 622,563.3 628.9,586.7 635.8,583.3 642.7,563.3 649.5,570 656.4,586.7 666.7,600 670,604 Z" fill="#383838"/>
<path d="M341.9,588.3 L348.8,553.3 355.6,581.7 362.5,581.7 369.4,601.7 383.1,603.3 390,586.7 398.6,583.3 405.5,530 412.4,553.3 419.2,540 426.1,583.3 433,593.3 439.9,535 446.7,526 467.4,526.7 474.2,560 481.1,535 488,538.3 494.9,533.3 501.7,540 508.6,546.7 515.5,535 522.4,530 529.2,528.3 536.1,553.3 543,570 549.9,570 556.7,560 563.6,553.3 570.5,530 584.2,525 591.1,540 598,541.7 604.9,556.7 611.7,556.7 618.6,571.7 632.4,569.3 639.2,550 646.1,529.3 653,528.3 659.9,535 666.7,551.7 673.6,536.7 680.5,563.3 687.4,573.3 694.2,570 701.1,540 708,570 714.9,575 721.7,591.7 728.6,548.3 735.5,533.3 742.4,553.3 749.2,570 756.5,551.7" fill="none" stroke="#a8a8a8" stroke-width="1.2"/>
<path d="M341.9,569.3 L348.8,553.3 355.6,554 362.5,555 369.4,570 376.3,586.7 383.1,600 390,602.7 398.6,600 405.5,586.7 412.4,575 419.2,586.7 426.1,601.7 433,586.7 439.9,545 446.7,549.3 453.6,548.3 460.5,568.3 467.4,574 474.2,593.3 481.1,590 488,591.7 494.9,586.7 501.7,585 508.6,581.7 515.5,585 522.4,583.3 529.2,576.7 536.1,575 543,566.7 549.9,555 556.7,549.3 563.6,549.3 570.5,553.3 577.4,551.7 584.2,552.3 591.1,550 598,552.7 604.9,565 611.7,565 618.6,562.7 625.5,560.7 632.4,559.3 639.2,566.7 646.1,567.3 653,569.3 659.9,570 666.7,568.3 673.6,567.3 680.5,569.3 687.4,565 694.2,580 701.1,586 708,577.3 714.9,600 721.7,579.3 728.6,559.3 735.5,550 742.4,560.7 749.2,561.7 756.5,555" fill="none" stroke="#ffffff" stroke-width="1.5"/>
<g fill="#ffb400">
<rect x="341.6" y="583.3" width="2.6" height="21"/><rect x="348.1" y="586.7" width="2.6" height="18"/><rect x="355" y="601" width="2.6" height="3"/><rect x="424.8" y="598.3" width="2.6" height="6"/><rect x="431.7" y="596.7" width="2.6" height="8"/><rect x="454" y="597.3" width="2.6" height="7"/><rect x="460.2" y="590" width="2.6" height="14"/><rect x="467.8" y="596.7" width="2.6" height="8"/><rect x="474.6" y="601" width="2.6" height="3"/><rect x="586.4" y="599" width="2.6" height="5"/><rect x="593.2" y="590" width="2.6" height="14"/><rect x="600.1" y="585" width="2.6" height="19"/><rect x="607.7" y="588.3" width="2.6" height="16"/><rect x="614.6" y="590" width="2.6" height="14"/><rect x="620.7" y="590" width="2.6" height="14"/><rect x="627.6" y="596" width="2.6" height="8"/><rect x="635.2" y="593.3" width="2.6" height="11"/><rect x="642.4" y="590" width="2.6" height="14"/><rect x="649.3" y="590.7" width="2.6" height="13"/><rect x="656.2" y="594" width="2.6" height="10"/><rect x="663.7" y="597.3" width="2.6" height="7"/><rect x="670.6" y="600" width="2.6" height="4"/><rect x="686.1" y="601" width="2.6" height="3"/><rect x="699.8" y="601" width="2.6" height="3"/>
</g>
<rect x="342" y="525" width="415" height="80" fill="url(#vg)"/>
<path class="gd" d="M342,546H757M342,565H757M342,584H757"/>
</g>
<rect class="bd" x="342" y="525.3" width="414.7" height="78.7"/>

<!-- main tick labels -->
<g class="tk" text-anchor="end">
<text x="338.5" y="66">10</text><text x="338.5" y="80.7">8</text><text x="338.5" y="95.4">6</text><text x="338.5" y="110.1">4</text><text x="338.5" y="124.8">2</text>
<text x="338.5" y="151">10</text><text x="338.5" y="166">8</text><text x="338.5" y="181">6</text><text x="338.5" y="196">4</text><text x="338.5" y="211">2</text><text x="338.5" y="226">0</text>
<text x="338.5" y="240">1000</text><text x="338.5" y="260">995</text><text x="338.5" y="280">990</text><text x="338.5" y="300">985</text>
<text x="338.5" y="322.5">20</text><text x="338.5" y="341.5">15</text><text x="338.5" y="361">10</text><text x="338.5" y="380">5</text><text x="338.5" y="399">0</text>
<text x="338.5" y="442">15.0</text><text x="338.5" y="462">7.0</text><text x="338.5" y="481">2.0</text><text x="338.5" y="500">0.5</text><text x="338.5" y="519">0.0</text>
<text x="338.5" y="530">8</text><text x="338.5" y="550">6</text><text x="338.5" y="569">4</text><text x="338.5" y="588">2</text><text x="338.5" y="608">0</text>
</g>
<g class="tk">
<text x="759.5" y="66">10</text><text x="759.5" y="80.7">8</text><text x="759.5" y="95.4">6</text><text x="759.5" y="110.1">4</text><text x="759.5" y="124.8">2</text>
<g fill="#f05a1e"><text x="758.5" y="151">100</text><text x="759.5" y="166">95</text><text x="759.5" y="181">90</text><text x="759.5" y="196">85</text><text x="759.5" y="211">80</text><text x="759.5" y="226">75</text></g>
<text x="759.5" y="240">750</text><text x="759.5" y="260">746</text><text x="759.5" y="280">742</text><text x="759.5" y="300">739</text>
<text x="759.5" y="322.5">72</text><text x="759.5" y="341.5">54</text><text x="759.5" y="361">36</text><text x="759.5" y="380">18</text><text x="759.5" y="399">0</text>
<g fill="#ff8c00"><text x="758.5" y="442">100</text><text x="759.5" y="462">20</text><text x="759.5" y="481">5</text><text x="759.5" y="500">1</text><text x="759.5" y="519">0</text>
<text x="759.5" y="530">1</text><text x="759.5" y="550">0.75</text><text x="759.5" y="569">0.5</text><text x="759.5" y="588">0.25</text><text x="759.5" y="608">0</text></g>
</g>

<!-- rotated titles -->
<g class="ti" text-anchor="middle">
<text transform="translate(291.5,96) rotate(-90)">temperatura</text>
<text transform="translate(303.5,96) rotate(-90)">(°C)</text>
<text transform="translate(801,96) rotate(-90)">(°C)</text>
<text transform="translate(813.5,96) rotate(-90)">temperatura</text>
<text transform="translate(291.5,183) rotate(-90)">opad</text>
<text transform="translate(303.5,183) rotate(-90)" font-size="11.5">(mm/h, kg/m²/h)</text>
<text transform="translate(801,183) rotate(-90)">(%)</text>
<text transform="translate(813.5,183) rotate(-90)">wilgotność wzgl.</text>
<text transform="translate(291.5,269.5) rotate(-90)">ciśnienie</text>
<text transform="translate(303.5,269.5) rotate(-90)">(hPa)</text>
<text transform="translate(801,269.5) rotate(-90)">(mm Hg)</text>
<text transform="translate(813.5,269.5) rotate(-90)">ciśnienie</text>
<text transform="translate(291.5,355.5) rotate(-90)">wiatr</text>
<text transform="translate(303.5,355.5) rotate(-90)">(m/s)</text>
<text transform="translate(801,355.5) rotate(-90)">(km/h)</text>
<text transform="translate(813.5,355.5) rotate(-90)">wiatr</text>
<text transform="translate(291.5,471.5) rotate(-90)">pion. rozciągł. chm.</text>
<text transform="translate(303.5,465) rotate(-90)">(km)</text>
<text transform="translate(801,476) rotate(-90)">(km)</text>
<text transform="translate(813.5,476) rotate(-90)">widzialność</text>
<text transform="translate(291.5,570) rotate(-90)">zachmurzenie</text>
<text transform="translate(303.5,574) rotate(-90)">(oktanty)</text>
<text transform="translate(801,564.5) rotate(-90)">(frakcja)</text>
<text transform="translate(813.5,564.5) rotate(-90)">mgła</text>
</g>
<g font-size="12" fill="#2a2ac4">
<text x="283.4" y="420">W</text><text x="293" y="411.5">N</text><text x="300.6" y="418.5">E</text><text x="293.8" y="428">S</text>
<text x="788.8" y="420">W</text><text x="799" y="411.5">N</text><text x="807.7" y="418.5">E</text><text x="800.8" y="428">S</text>
</g>

<!-- footer -->
<text x="300.6" y="652" font-size="12.4" fill="#22228e">meteo@icm.edu.pl</text>
<text x="804.2" y="652" font-size="12.4" fill="#22228e" text-anchor="end">© 2007-2025 ICM, Uniwersytet Warszawski</text>

<!-- ================= MINI LEGEND PANELS ================= -->
<g clip-path="url(#mT)">
<path d="M135,86 L150,90 165,97 180,103 200,107 220,108 232,110 240,105 245,103 L245,113 240,113 233,118 220,116 200,115 180,114 165,108 150,100 135,99 Z" fill="#fde2dc"/>
<path d="M135,110 L150,111 165,113 180,115 200,117 215,118 232,121 240,116 245,115 L245,135 135,135 Z" fill="#9fd5f6"/>
<path d="M160,135 L185,124 210,125 232,127 245,122 L245,135 Z" fill="#80bce9"/>
<rect x="135" y="55" width="110" height="80" fill="url(#mvg)"/>
<path class="gd" d="M135,60H245M135,77H245M135,94H245M135,111H245M135,128.5H245"/>
<path d="M143.3,78.3V115M149,76.7V110M156.7,86.7V100M170,110V115M176.7,106.7V116.7M185,110V120M193.3,110V123.3M200,108.3V125M205,113.3V126.7M211.7,111.7V128.3M220,108.3V125M226.7,115V133.3M233.3,115V130M240.7,106.7V115" stroke="#a00000" stroke-width="1"/>
<g fill="#7060e8"><circle cx="137" cy="113" r="1.8"/><circle cx="142" cy="113" r="1.8"/><circle cx="148" cy="113" r="1.8"/><circle cx="155" cy="113" r="1.8"/><circle cx="163" cy="113" r="1.8"/><circle cx="170" cy="114" r="1.8"/><circle cx="177" cy="114" r="1.8"/><circle cx="187" cy="115" r="1.8"/><circle cx="197" cy="116" r="1.8"/><circle cx="207" cy="118" r="1.8"/><circle cx="217" cy="119" r="1.8"/><circle cx="227" cy="120.7" r="1.8"/></g>
<path d="M135,98.3 L143.3,99.3 153.3,101.7 163.3,106 170,110 180,112.7 190,114 200,115 210,115.7 220,115 230,116 233.3,117.3 239.3,111.7 245,111.7" fill="none" stroke="#ff0000" stroke-width="2"/>
<path d="M135,102.7 L143.3,104 153.3,106 163.3,109.3 170,111 180,112.7 190,113.3 200,114 210,115 216.7,114.3 223.3,117.3 231.7,121.7 239.3,116 245,115" fill="none" stroke="#0000ff" stroke-width="2.5"/>
</g>
<rect class="bd" x="135" y="55" width="110" height="80"/>

<!-- mini precip -->
<rect x="135" y="143" width="110" height="78" fill="url(#mvg)"/>
<path class="gd" d="M135,150H245M135,168H245M135,184H245M135,201H245"/>
<g fill="#0aa00a"><rect x="135" y="187" width="8" height="34"/><rect x="143" y="182" width="14" height="39"/><rect x="157" y="178" width="6" height="43"/><rect x="163" y="207" width="5" height="14"/><rect x="168" y="218" width="9" height="3"/></g>
<rect x="157" y="182" width="6" height="20" fill="#2040d0"/><rect x="163" y="205" width="6" height="3" fill="#2040d0"/>
<path d="M146,149V171M153.3,149V171" stroke="#00a000" stroke-width="1"/>
<path d="M135,173.3 L140,170 146.7,163.3 153.3,156.7 163.3,152.7 173.3,152.7 183.3,152.7 190,149.3 196.7,148.3 203.3,151.7 210,155 216.7,152.7 223.3,150 230,149.3 236.7,151.7 245,163.3" fill="none" stroke="#f05a1e" stroke-width="2"/>
<rect x="144.2" y="145.2" width="3" height="3" fill="#e00000"/><rect x="151.8" y="145.2" width="3" height="3" fill="#e00000"/>
<circle cx="139.3" cy="173.3" r="2.2" fill="#ffee00" stroke="#806000" stroke-width="0.5"/><circle cx="146.7" cy="173.3" r="2.2" fill="#ffa000" stroke="#805000" stroke-width="0.5"/><circle cx="153.3" cy="173.3" r="2.2" fill="#e00000" stroke="#600000" stroke-width="0.5"/>
<g fill="#e00000"><rect x="137" y="219" width="2.5" height="2.5"/><rect x="142" y="219" width="2.5" height="2.5"/><rect x="147" y="219" width="2.5" height="2.5"/><rect x="154" y="219" width="2.5" height="2.5"/><rect x="159" y="219" width="2.5" height="2.5"/></g>
<rect class="bd" x="135" y="143" width="110" height="78"/>

<!-- mini pressure -->
<path d="M135,261.7 L141.7,259.3 146.7,255 156.7,249 165,249 170,245.7 176.7,248.3 186.7,251 191.7,254 200,254 220,254 226.7,255 233.3,258.3 240,261.7 245,265 L245,307 L135,307 Z" fill="#ffff00"/>
<rect x="170" y="246" width="6" height="61" fill="#ffd400" opacity="0.3"/>
<rect x="135" y="230" width="110" height="77" fill="url(#mvg)"/>
<path class="gd" d="M135,254H245M135,278H245M135,301.5H245"/>
<path d="M135,261.7 L141.7,259.3 146.7,255 156.7,249 165,249 170,245.7 176.7,248.3 186.7,251 191.7,254 200,254 220,254 226.7,255 233.3,258.3 240,261.7 245,265" fill="none" stroke="#000" stroke-width="2.5"/>
<rect class="bd" x="135" y="230" width="110" height="77"/>

<!-- mini wind -->
<rect x="135" y="315" width="110" height="77" fill="url(#mvg)"/>
<path class="gd" d="M135,333.3H245M135,353.3H245M135,373H245"/>
<g clip-path="url(#mW)">
<rect x="135" y="360" width="13" height="33" fill="#22c022"/><rect x="148" y="360" width="21" height="33" fill="#007f00"/><rect x="169" y="360" width="28" height="33" fill="#0b4684"/><rect x="197" y="360" width="14" height="33" fill="#007f00"/><rect x="211" y="360" width="15" height="33" fill="#0b4684"/><rect x="226" y="360" width="13" height="33" fill="#007f00"/><rect x="239" y="360" width="6" height="33" fill="#22c022"/>
</g>
<path d="M135,366.7 L146.7,368.3 156.7,371.7 166.7,374 176.7,375.7 190,375 200,373.3 230,371.7 245,370" fill="none" stroke="#1a1a8c" stroke-width="2.5"/>
<path d="M140,340h7M150,347.7h7M160,351.7h7M170,355h7M178,358.3h5M183,353.3h7M193,351h7M203,350.3h7M213,351.7h7M226.5,347.7h7M235,343.3h7M241.5,342.3h3.5" stroke="#ff0000" stroke-width="1.3"/>
<circle cx="138.3" cy="316.7" r="1.6" fill="#ff0000"/>
<rect class="bd" x="135" y="315" width="110" height="77"/>

<!-- mini direction -->
<rect x="135" y="398" width="110" height="34" fill="url(#mvg)"/>
<rect x="135" y="398" width="114" height="34" fill="url(#aSE)"/>
<rect class="bd" x="135" y="398" width="110" height="34"/>

<!-- mini cloud base -->
<g clip-path="url(#mB)">
<rect x="135" y="435" width="110" height="78" fill="#87cefa"/>
<rect x="170" y="435" width="62" height="78" fill="#7cbeeb"/>
<rect x="135" y="435" width="110" height="78" fill="url(#mvg)"/>
<path class="gd" d="M135,455H245M135,474.3H245M135,494.3H245"/>
<g fill="#8c8c8c"><circle cx="150" cy="492.7" r="2.4"/><circle cx="156.7" cy="492.7" r="2.4"/><circle cx="163.3" cy="492.7" r="2.4"/><circle cx="170" cy="492.7" r="2.4"/><circle cx="176.7" cy="492.7" r="2.4"/><circle cx="190" cy="492.7" r="2.4"/><circle cx="196.7" cy="492.7" r="2.4"/><circle cx="203.3" cy="492.7" r="2.4"/><circle cx="210" cy="492.7" r="2.4"/><circle cx="216.7" cy="492.7" r="2.4"/><circle cx="223.3" cy="492.7" r="2.4"/><circle cx="230" cy="492.7" r="2.4"/><circle cx="236.7" cy="492.7" r="2.4"/><circle cx="243.3" cy="492.7" r="2.4"/></g>
<g fill="#d0d0d0"><circle cx="136.7" cy="506" r="2.4"/><circle cx="143.3" cy="500" r="2.4"/><circle cx="218.3" cy="500" r="2.4"/><circle cx="225" cy="500" r="2.4"/><circle cx="232.7" cy="500" r="2.4"/><circle cx="239.3" cy="500" r="2.4"/></g>
<g fill="#fff"><circle cx="150" cy="500" r="2.4"/><circle cx="165" cy="500" r="2.4"/><circle cx="185" cy="500.7" r="2.4"/><circle cx="191.7" cy="500" r="2.4"/><circle cx="185" cy="509.3" r="2.4"/><circle cx="218.3" cy="509.3" r="2.4"/><circle cx="225" cy="509.3" r="2.4"/><circle cx="232.7" cy="509.3" r="2.4"/><circle cx="239.3" cy="509.3" r="2.4"/></g>
<circle cx="143.3" cy="481.7" r="2.4" fill="#505050"/>
<g fill="#000"><circle cx="191.7" cy="456" r="2.4"/><circle cx="198.3" cy="464.3" r="2.4"/><circle cx="205" cy="466.7" r="2.4"/><circle cx="218.3" cy="481" r="2.4"/><circle cx="225.7" cy="485" r="2.4"/><circle cx="240" cy="481.7" r="2.4"/><circle cx="185" cy="490" r="2.4"/></g>
<g fill="#b02828"><circle cx="136.7" cy="475" r="2.5"/><circle cx="143.3" cy="475" r="2.5"/><circle cx="150" cy="458.3" r="2.5"/><circle cx="156.7" cy="458.3" r="2.5"/><circle cx="163.3" cy="458.3" r="2.5"/><circle cx="170" cy="452.7" r="2.5"/><circle cx="176.7" cy="449.3" r="2.5"/><circle cx="183.3" cy="449.3" r="2.5"/><circle cx="191.7" cy="449.3" r="2.5"/><circle cx="198.3" cy="449.3" r="2.5"/><circle cx="205" cy="449.3" r="2.5"/><circle cx="211.7" cy="449.3" r="2.5"/><circle cx="218.3" cy="449.3" r="2.5"/><circle cx="225" cy="449.3" r="2.5"/><circle cx="231.7" cy="449.3" r="2.5"/><circle cx="238.3" cy="449.3" r="2.5"/><circle cx="245" cy="449.3" r="2.5"/></g>
<path d="M135,470 L143.3,470 146.7,467.3 156.7,464 170,463.3 181.7,463.3 190,466.7 200,469.3 210,471.7 216.7,473.3 226.7,473.3 233.3,470.7 245,469.3" fill="none" stroke="#ff9000" stroke-width="2"/>
</g>
<rect class="bd" x="135" y="435" width="110" height="78"/>

<!-- mini cloud cover -->
<rect x="135" y="523" width="110" height="79" fill="#87cefa"/>
<rect x="170" y="523" width="62" height="79" fill="#7cbeeb"/>
<path d="M135,602 L135,577 143.3,563.3 148.3,573.3 156.7,576.7 166.7,586.7 170,590 170,602 Z" fill="#6e6e6e"/>
<path d="M168,602 L168,578 176.7,567 186.7,563.3 193.3,545 198,532 203,528 206,545 200,565 195,585 192,602 Z" fill="#ffffff"/>
<path d="M190,602 L194,580 198,560 200,530 206.7,530 213.3,526.7 220,523.3 245,523.3 245,602 Z" fill="#8c8c8c"/>
<path d="M186,602 L191.7,576.7 196.7,556 203,545 213.3,538 223.3,534 233.3,540 240,550 245,560 245,602 Z" fill="#555555"/>
<path d="M176,602 L180,585 188,580 190,602 Z" fill="#b0b0b0"/>
<path d="M135,602 L140,590 146,585 152,592 160,596 168,602 Z" fill="#404040"/>
<g fill="#ffb800"><rect x="217" y="590" width="2.6" height="12"/><rect x="224" y="590" width="2.6" height="12"/><rect x="230.5" y="590" width="2.6" height="12"/><rect x="238" y="590" width="2.6" height="12"/></g>
<rect x="135" y="523" width="110" height="79" fill="url(#mvg)"/>
<path class="gd" d="M135,543.3H245M135,562.3H245M135,582H245"/>
<rect class="bd" x="135" y="523" width="110" height="79"/>

<!-- mini tick labels -->
<g class="tk" text-anchor="end">
<text x="131" y="64">30</text><text x="131" y="81">20</text><text x="131" y="98">10</text><text x="131" y="115">0</text><text x="131" y="133">-10</text>
<text x="131" y="154">2.0</text><text x="131" y="172">1.5</text><text x="131" y="188">1.0</text><text x="131" y="205">0.5</text><text x="131" y="223">0.0</text>
<text x="131" y="234">1018</text><text x="131" y="258">1016</text><text x="131" y="282">1014</text><text x="131" y="305">1012</text>
<text x="131" y="319">20</text><text x="131" y="337">15</text><text x="131" y="357">10</text><text x="131" y="377">5</text><text x="131" y="396">0</text>
<text x="131" y="439">15.0</text><text x="131" y="459">7.0</text><text x="131" y="478">2.0</text><text x="131" y="498">0.5</text><text x="131" y="517">0.0</text>
<text x="131" y="527">8</text><text x="131" y="547">6</text><text x="131" y="566">4</text><text x="131" y="586">2</text><text x="131" y="606">0</text>
</g>
<g class="tk">
<text x="252" y="64">30</text><text x="252" y="81">20</text><text x="252" y="98">10</text><text x="252" y="115">0</text><text x="252" y="133">-10</text>
<g fill="#f05a1e"><text x="252" y="154">96</text><text x="252" y="172">84</text><text x="252" y="188">73</text><text x="252" y="205">61</text><text x="252" y="223">50</text></g>
<text x="251" y="234">1018</text><text x="251" y="258">1016</text><text x="251" y="282">1014</text><text x="251" y="305">1012</text>
<text x="252" y="319">72</text><text x="252" y="337">54</text><text x="252" y="357">36</text><text x="252" y="377">18</text><text x="252" y="396">0</text>
<g fill="#ff8c00"><text x="251" y="439">100</text><text x="252" y="459">20</text><text x="252" y="478">5</text><text x="252" y="498">1</text><text x="252" y="517">0</text>
<text x="252" y="527">1</text><text x="251" y="547">0.75</text><text x="251" y="566">0.5</text><text x="251" y="586">0.25</text><text x="252" y="606">0</text></g>
</g>
<g font-size="12.4" text-anchor="middle">
<text x="163.5" y="52">20</text><text x="204" y="52">02</text><text x="244.5" y="52">08</text>
<text x="163" y="615">18</text><text x="204.5" y="615">00</text><text x="246.5" y="615">06</text>
</g>

<!-- legend leader lines -->
<g fill="none" stroke-width="1">
<path d="M66.7,15H133.3L156.7,42.7" stroke="#000"/>
<path d="M101.7,43.3H118.3L146.7,78.3" stroke="#b41e1e"/>
<path d="M90.7,76H116.7M129.3,76L170,110" stroke="#ff0000"/>
<path d="M68.3,99.3H135L140,101" stroke="#0000ff"/>
<path d="M94.3,119.3H133.3L140,113.3" stroke="#6a5acd"/>
<path d="M101.7,137.7H145.7V146" stroke="#ff0000"/>
<path d="M105,150.7H112.7M130,150.7L137,153L143,163" stroke="#f05a1e"/>
<path d="M95,166.7H113.3M130,166.7L137,172.5" stroke="#000"/>
<path d="M70,180H139.3V175" stroke="#00a000"/>
<path d="M80,190.7H136" stroke="#00a000"/>
<path d="M70,201H111.7M130,201L157,182" stroke="#2828e0"/>
<path d="M81.7,211.7H135L161,171" stroke="#2828e0"/>
<path d="M101.7,226.7H133.3" stroke="#ff0000"/>
<path d="M50,263.3H133.3L137,261.5" stroke="#000"/>
<path d="M110,333.3H114M130,333.3L138.3,316.7" stroke="#ff0000"/>
<path d="M106,348.3H133.3L143.3,340" stroke="#ff0000"/>
<path d="M91.7,366.7H135" stroke="#00008b"/>
<path d="M85,409.3H135" stroke="#00008b"/>
<path d="M100,431.7H133L183.3,447" stroke="#b22222"/>
<path d="M57.3,468.3H135L191.7,456" stroke="#000"/>
<path d="M57.3,479.3H135L143.3,481.7" stroke="#404040"/>
<path d="M57.3,490.7H131.7L136.7,496.7" stroke="#909090"/>
<path d="M57.3,500.7H131.7L136.7,505" stroke="#d0d0d0"/>
<path d="M57.3,511H133.3" stroke="#87cefa"/>
<path d="M66.7,527.3H128.3L171.7,465" stroke="#ff8c00"/>
<path d="M53.3,556.7H135" stroke="#87cefa"/>
<path d="M135,556.7H185" stroke="#ffffff"/>
<path d="M55,570.7H193.3" stroke="#a0a0a0"/>
<path d="M38.3,582.3H121.7M131.7,582.3H136.7" stroke="#404040"/>
<path d="M73.3,594H136.7L146.7,592.3" stroke="#000"/>
<path d="M18.3,605H216.7L219.3,600" stroke="#ffb000"/>
<path d="M138.3,622.7H150L160,611.7" stroke="#000"/>
</g>

<!-- legend texts -->
<g class="lg">
<text x="6" y="19" fill="#000">Czas lokalny</text>
<text x="6" y="30" fill="#000">(CET/CEST)</text>
<text x="6" y="47" fill="#b41e1e">Temperatura gruntu</text>
<text x="28.3" y="57" fill="#b41e1e">max/min</text>
<text x="6" y="67" fill="#000">Temperatura:</text>
<text x="12.7" y="80" fill="#ff0000">punkt środkowy</text>
<text x="28.3" y="91" fill="#f9c8c0">max/min</text>
<text x="10" y="103" fill="#0000ff">odczuwana</text>
<text x="28.3" y="112" fill="#a0d8f0">max/min</text>
<text x="6" y="123.5" fill="#6a5acd">Temp. punktu rosy</text>
<text x="6" y="142" fill="#ff0000">Opad powyżej skali</text>
<text x="6" y="155" fill="#f05a1e">Wilgotność względna</text>
<text x="6" y="171" fill="#000">Wystąpienie burzy</text>
<text x="6" y="184" fill="#00a000">Deszcz: max</text>
<text x="48.3" y="195" fill="#00a000">średni</text>
<text x="6" y="205" fill="#2828e0">Śnieg:</text>
<text x="48.3" y="205" fill="#2828e0">max</text>
<text x="48.3" y="216" fill="#2828e0">średni</text>
<text x="6" y="227.5" fill="#ff0000">Wystąpienie opadu</text>
<text x="6" y="241" fill="#ff0000">konwekcyjnego</text>
<text x="5" y="267" fill="#000">Ciśnienie</text>
<text x="5" y="281" fill="#000">zredukowane</text>
<text x="5" y="292.5" fill="#000">do poziomu morza</text>
<text x="5" y="322" fill="#000">Wiatr na 10m:</text>
<text x="10" y="338" fill="#ff0000">poryw powyżej skali</text>
<text x="10" y="352.5" fill="#ff0000">max porywy wiatru</text>
<text x="10" y="372.5" fill="#00008b">prędkość wiatru</text>
<text x="10" y="385" fill="#00008b">w środku obszaru</text>
<text x="10" y="413" fill="#00008b">kierunek wiatru</text>
<text x="5" y="433" fill="#b22222">Wierzchołek chmur</text>
<text x="5" y="450" fill="#000">Podstawa chmur*</text>
<text x="5" y="460" fill="#000">o pokryciu</text>
<text x="10" y="472" fill="#000">&gt; 7.9 okt.</text>
<text x="10" y="483.5" fill="#404040">&gt; 6.5 okt.</text>
<text x="10" y="495" fill="#909090">&gt; 4.5 okt.</text>
<text x="10" y="505" fill="#d8d8d8">&gt; 2.5 okt.</text>
<rect x="10" y="504.5" width="47" height="13" fill="#87cefa"/>
<text x="11" y="515" fill="#ffffff">&gt; 0.1 okt.</text>
<text x="5" y="531" fill="#ff8c00">Widzialność</text>
<text x="5" y="547.5" fill="#000">Chmury:</text>
<rect x="10" y="550.5" width="42" height="12" fill="#87cefa"/>
<text x="11" y="560.5" fill="#ffffff">wysokie</text>
<text x="10" y="572.5" fill="#a0a0a0">średnie</text>
<text x="10" y="586" fill="#404040">niskie</text>
<text x="10" y="597.5" fill="#000">bardzo niskie</text>
<text x="5" y="609" fill="#ffb000">Mgła</text>
</g>
<text x="5" y="627" font-size="12" fill="#000">Czas uniwersalny (UTC)</text>
<text x="5" y="652" font-size="9" font-weight="bold" fill="#000">* powyżej poziomu morza</text>
</svg>
</body></html>
